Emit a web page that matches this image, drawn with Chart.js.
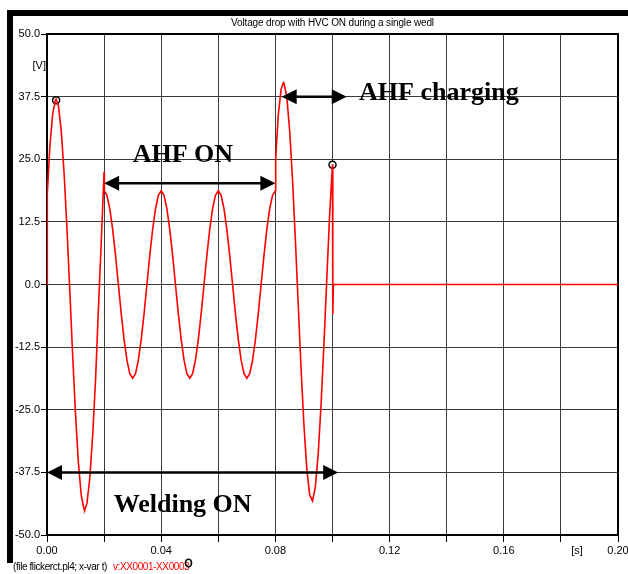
<!DOCTYPE html>
<html>
<head>
<meta charset="utf-8">
<script src="https://cdn.jsdelivr.net/npm/chart.js@4/dist/chart.umd.min.js"></script>
<style>
  html, body { margin: 0; padding: 0; background: #fff; }
  #wrap { width: 628px; height: 574px; }
</style>
</head>
<body>
<div id="wrap"><canvas id="plot" width="628" height="574"></canvas></div>
<script>
// time [s] and voltage [V]
const voltT = [
  0, 0.0001, 0.001, 0.002, 0.003, 0.0032, 0.004, 0.005, 0.006, 0.007, 0.008, 0.009,
  0.01, 0.011, 0.012, 0.013, 0.0132, 0.014, 0.015, 0.016, 0.017, 0.018, 0.019, 0.0195,
  0.02, 0.0201, 0.021, 0.022, 0.023, 0.024, 0.025, 0.026, 0.027, 0.028, 0.029,
  0.03, 0.031, 0.032, 0.033, 0.034, 0.035, 0.036, 0.037, 0.038, 0.039,
  0.04, 0.041, 0.042, 0.043, 0.044, 0.045, 0.046, 0.047, 0.048, 0.049,
  0.05, 0.051, 0.052, 0.053, 0.054, 0.055, 0.056, 0.057, 0.058, 0.059,
  0.06, 0.061, 0.062, 0.063, 0.064, 0.065, 0.066, 0.067, 0.068, 0.069,
  0.07, 0.071, 0.072, 0.073, 0.074, 0.075, 0.076, 0.077, 0.078, 0.079,
  0.08, 0.0801, 0.081, 0.082, 0.0828, 0.083, 0.084, 0.085, 0.086, 0.087, 0.088, 0.089,
  0.09, 0.091, 0.092, 0.093, 0.094, 0.095, 0.096, 0.097, 0.098, 0.099,
  0.1, 0.1001, 0.1003, 0.2
];
const voltV = [
  0, 18.0, 27.6, 34.1, 36.9, 37.0, 35.7, 30.6, 22.1, 11.1, -1.4, -14.2,
  -26.0, -35.6, -42.1, -44.9, -45.0, -43.7, -38.6, -30.1, -19.1, -5.0, 8.5, 15.5,
  22.5, 18.7, 17.8, 15.1, 11.0, 5.8, 0, -5.8, -11.0, -15.1, -17.8,
  -18.7, -17.8, -15.1, -11.0, -5.8, 0, 5.8, 11.0, 15.1, 17.8,
  18.7, 17.8, 15.1, 11.0, 5.8, 0, -5.8, -11.0, -15.1, -17.8,
  -18.7, -17.8, -15.1, -11.0, -5.8, 0, 5.8, 11.0, 15.1, 17.8,
  18.7, 17.8, 15.1, 11.0, 5.8, 0, -5.8, -11.0, -15.1, -17.8,
  -18.7, -17.8, -15.1, -11.0, -5.8, 0, 5.8, 11.0, 15.1, 17.8,
  18.7, 25.1, 33.8, 39.0, 40.3, 40.2, 37.4, 30.7, 20.9, 8.9, -4.1, -16.9,
  -28.1, -36.8, -42.0, -43.2, -40.4, -33.7, -23.9, -11.9, 1.1, 13.9,
  24.0, -6.0, 0, 0
];

// open circle markers on the trace
const markerT = [0.0032, 0.1];
const markerV = [36.8, 23.9];

const xTickLabels = ['0.00', '', '0.04', '', '0.08', '', '0.12', '', '0.16', '', '0.20'];
const yTickLabels = ['-50.0', '-37.5', '-25.0', '-12.5', '0.0', '12.5', '25.0', '37.5', '50.0'];

// double arrows with their labels (data units)
const arrowFrom = [0.02, 0.0822, 0];
const arrowTo = [0.08, 0.105, 0.102];
const arrowAt = [20.2, 37.5, -37.5];
const noteText = ['AHF ON', 'AHF charging', 'Welding ON'];
const noteT = [0.0476, 0.1093, 0.0475];
const noteV = [24.5, 36.8, -45.4];
const noteAlign = ['center', 'left', 'center'];

const titleText = 'Voltage drop with HVC ON during a single wedl';

function doubleArrow(ctx, x1, x2, y) {
  const head = 15, half = 7.5;
  ctx.save();
  ctx.strokeStyle = '#000';
  ctx.fillStyle = '#000';
  ctx.lineWidth = 2.5;
  ctx.beginPath();
  ctx.moveTo(x1 + head - 1, y);
  ctx.lineTo(x2 - head + 1, y);
  ctx.stroke();
  ctx.beginPath();
  ctx.moveTo(x1, y);
  ctx.lineTo(x1 + head, y - half);
  ctx.lineTo(x1 + head, y + half);
  ctx.closePath();
  ctx.fill();
  ctx.beginPath();
  ctx.moveTo(x2, y);
  ctx.lineTo(x2 - head, y - half);
  ctx.lineTo(x2 - head, y + half);
  ctx.closePath();
  ctx.fill();
  ctx.restore();
}

const decor = {
  id: 'decor',
  beforeDatasetsDraw(chart) {
    const { ctx, chartArea: a } = chart;
    ctx.save();
    ctx.strokeStyle = '#000';
    ctx.lineWidth = 2;
    ctx.strokeRect(a.left, a.top, a.right - a.left, a.bottom - a.top);
    ctx.restore();
  },
  afterDraw(chart) {
    const { ctx, chartArea: a } = chart;
    const xs = chart.scales.x, ys = chart.scales.y;
    ctx.save();

    // outer frame bars
    ctx.fillStyle = '#000';
    ctx.fillRect(7, 10, 621, 6);
    ctx.fillRect(7, 10, 6, 553);

    // title
    ctx.font = '10px "Liberation Sans"';
    ctx.letterSpacing = '-0.15px';
    ctx.textAlign = 'center';
    ctx.textBaseline = 'middle';
    ctx.fillText(titleText, (a.left + a.right) / 2, 23);

    // axis units
    ctx.letterSpacing = '0px';
    ctx.font = '11px "Liberation Sans"';
    ctx.textAlign = 'right';
    ctx.fillText('[V]', 46, 66);
    ctx.textAlign = 'center';
    ctx.fillText('[s]', 577, 551);

    // footer
    ctx.font = '10px "Liberation Sans"';
    ctx.letterSpacing = '-0.4px';
    ctx.textAlign = 'left';
    ctx.fillStyle = '#000';
    ctx.fillText('(file flickerct.pl4; x-var t)', 13, 567);
    ctx.fillStyle = '#ff0000';
    ctx.fillText('v:XX0001-XX0003', 113, 567);
    ctx.letterSpacing = '0px';
    ctx.strokeStyle = '#000';
    ctx.lineWidth = 1.6;
    ctx.beginPath();
    ctx.ellipse(188.5, 563, 3, 3.8, 0, 0, Math.PI * 2);
    ctx.stroke();

    // arrows and notes
    for (let i = 0; i < noteText.length; i++) {
      doubleArrow(ctx, xs.getPixelForValue(arrowFrom[i]), xs.getPixelForValue(arrowTo[i]), ys.getPixelForValue(arrowAt[i]));
      ctx.fillStyle = '#000';
      ctx.font = 'bold 26px "Liberation Serif"';
      ctx.textAlign = noteAlign[i];
      ctx.textBaseline = 'alphabetic';
      ctx.fillText(noteText[i], xs.getPixelForValue(noteT[i]), ys.getPixelForValue(noteV[i]));
    }
    ctx.restore();
  }
};

new Chart(document.getElementById('plot'), {
  type: 'line',
  data: {
    datasets: [
      {
        data: voltT.map((t, i) => ({ x: t, y: voltV[i] })),
        borderColor: '#ff0000',
        borderWidth: 1.6,
        pointRadius: 0,
        tension: 0,
        fill: false
      },
      {
        data: markerT.map((t, i) => ({ x: t, y: markerV[i] })),
        showLine: false,
        pointRadius: 3.5,
        pointBorderColor: '#000',
        pointBackgroundColor: '#fff',
        pointBorderWidth: 1.5
      }
    ]
  },
  options: {
    responsive: false,
    animation: false,
    layout: { padding: { left: 0, right: 10, top: 34, bottom: 0 } },
    plugins: { legend: { display: false }, tooltip: { enabled: false } },
    scales: {
      x: {
        type: 'linear',
        min: 0,
        max: 0.2,
        afterFit: (s) => { s.height = 39; s.paddingRight = 0; s.paddingLeft = 0; },
        ticks: {
          stepSize: 0.02,
          autoSkip: false,
          maxRotation: 0,
          padding: 2,
          color: '#000',
          font: { family: 'Liberation Sans', size: 11 },
          callback: (v, i) => xTickLabels[i]
        },
        grid: { color: '#3a3a3a', lineWidth: 1, tickLength: 7, tickColor: '#000' },
        border: { color: '#000', width: 2 }
      },
      y: {
        min: -50,
        max: 50,
        afterFit: (s) => { s.width = 47; s.paddingTop = 0; s.paddingBottom = 0; },
        ticks: {
          stepSize: 12.5,
          padding: 1,
          color: '#000',
          font: { family: 'Liberation Sans', size: 11 },
          callback: (v, i) => yTickLabels[i]
        },
        grid: { color: '#3a3a3a', lineWidth: 1, tickLength: 6, tickColor: '#000' },
        border: { color: '#000', width: 2 }
      }
    }
  },
  plugins: [decor]
});
</script>
</body>
</html>
